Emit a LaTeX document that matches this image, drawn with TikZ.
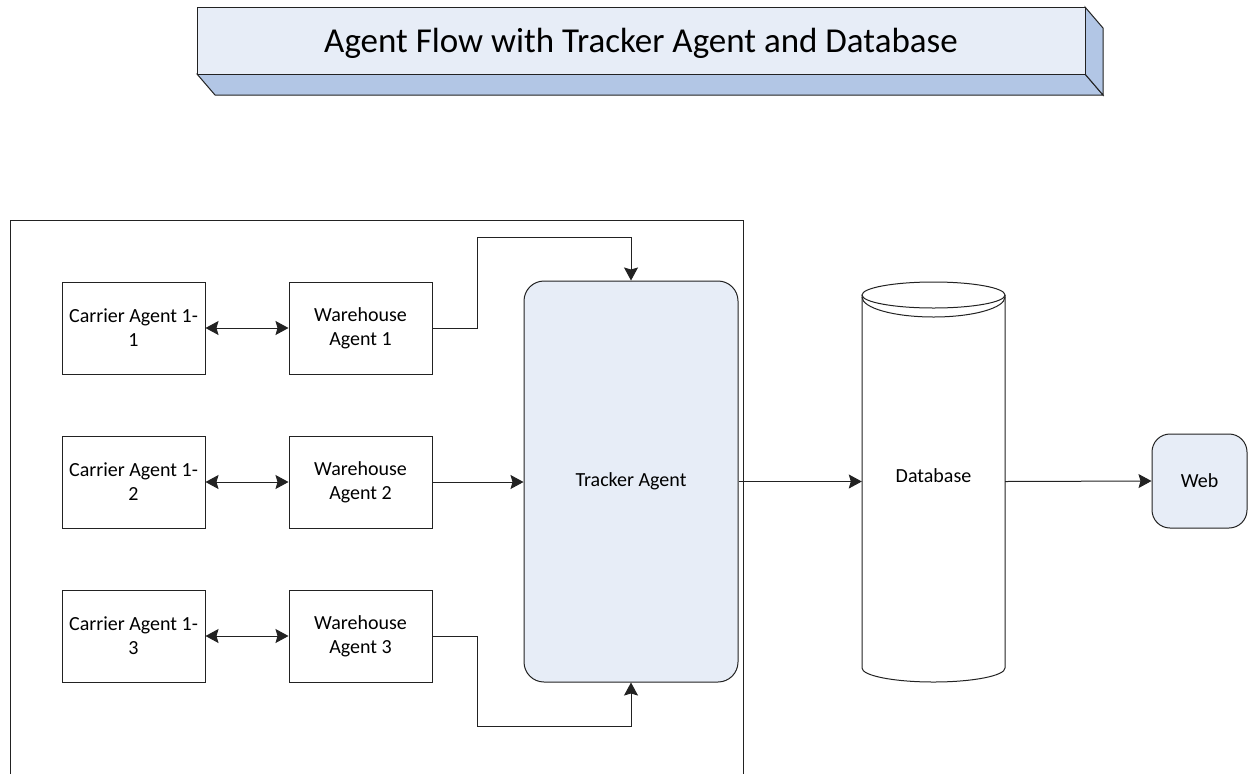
\documentclass[tikz,border=0pt]{standalone}
\usepackage{fontspec}
\setmainfont{Carlito}
\usetikzlibrary{arrows.meta}
\definecolor{paleblue}{HTML}{E7EDF7}
\definecolor{sideblue}{HTML}{B2C6E5}
\definecolor{edge}{HTML}{222222}
\tikzset{
  box/.style={draw=edge, line width=1pt, minimum width=143pt, minimum height=92pt,
    align=center, font=\fontsize{20}{24}\selectfont, inner sep=0pt},
  soft/.style={draw=edge, line width=1pt, fill=paleblue, rounded corners=20pt,
    align=center, font=\fontsize{20}{24}\selectfont, inner sep=0pt},
  link/.style={draw=edge, line width=1pt},
  head/.tip={Stealth[length=13pt,width=14pt,inset=2pt]},
  tip/.style={-head},
  twotip/.style={head-head},
}
\begin{document}
\begin{tikzpicture}[x=1pt,y=-1pt]
\useasboundingbox (0,0) rectangle (1249,774);

% title block: front face and two depth faces
\fill[sideblue, draw=edge, line width=1pt] (197,74) -- (1085,74) -- (1103,95) -- (215,95) -- cycle;
\fill[sideblue, draw=edge, line width=1pt] (1085,7) -- (1103,28) -- (1103,95) -- (1085,74) -- cycle;
\fill[paleblue, draw=edge, line width=1pt] (197,7) rectangle (1085,74);
\node[inner sep=0pt, font=\fontsize{35}{40}\selectfont] (title) at (641,43)
  {Agent Flow with Tracker Agent and Database};

% system frame
\draw[edge, line width=1pt] (10,774) -- (10,220) -- (743,220) -- (743,774);

% carrier and warehouse agents
\node[box] (ca1) at (133.5,328) {Carrier Agent 1-\\1};
\node[box] (ca2) at (133.5,482) {Carrier Agent 1-\\2};
\node[box] (ca3) at (133.5,636) {Carrier Agent 1-\\3};
\node[box] (wa1) at (360.5,328) {Warehouse\\Agent 1};
\node[box] (wa2) at (360.5,482) {Warehouse\\Agent 2};
\node[box] (wa3) at (360.5,636) {Warehouse\\Agent 3};

% tracker agent
\node[soft, minimum width=214pt, minimum height=401pt] (tracker) at (631,481.5) {Tracker Agent};

% database cylinder
\node[inner sep=0pt, minimum width=143pt, minimum height=388pt,
  font=\fontsize{20}{24}\selectfont] (db) at (933.5,476) {Database};
\draw[edge, line width=1pt] (862,295) -- (862,668)
  arc[start angle=180, end angle=360, x radius=71.5, y radius=-14] -- (1005,295);
\draw[edge, line width=1pt] (933.5,295) ellipse[x radius=71.5, y radius=13];
\draw[edge, line width=1pt] (862,297) arc[start angle=180, end angle=360, x radius=71.5, y radius=-20];

% web
\node[soft, rounded corners=18pt, minimum width=95pt, minimum height=94pt] (web) at (1199.5,481) {Web};

% connectors
\draw[link, twotip] (ca1.east) -- (wa1.west);
\draw[link, twotip] (ca2.east) -- (wa2.west);
\draw[link, twotip] (ca3.east) -- (wa3.west);

\coordinate (up) at (477,237);
\coordinate (down) at (477,726);
\draw[link, tip] (wa1.east) -| (up) -| (tracker.north);
\draw[link, tip] (wa3.east) -| (down) -| (tracker.south);
\draw[link, tip] (wa2.east) -- (wa2.east -| tracker.west);

\draw[link, tip] (tracker.east) -- (tracker.east -| db.west);
\draw[link, tip] (tracker.east -| db.east) -- (web.west);
\end{tikzpicture}
\end{document}
